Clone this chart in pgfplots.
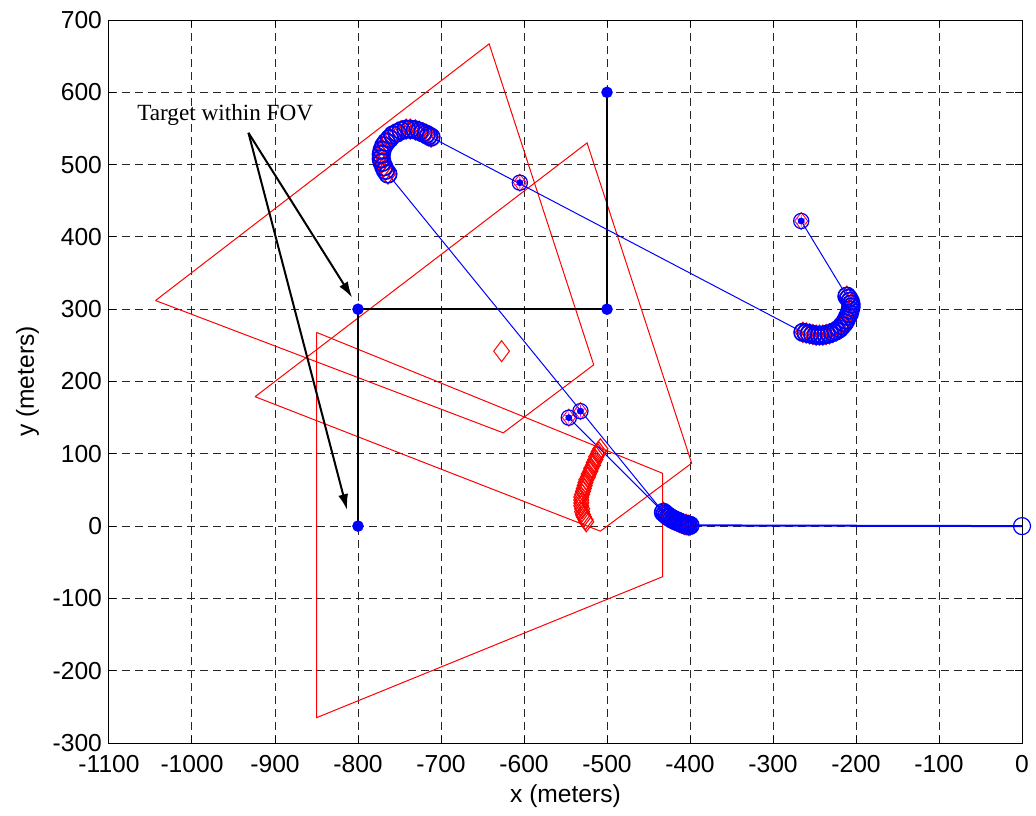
\documentclass[border=0pt]{standalone}
\usepackage{fontspec}
\setmainfont{Liberation Sans}
\newfontfamily\timesfont{Liberation Serif}
\usepackage{pgfplots}
\pgfplotsset{compat=1.18}
\usetikzlibrary{arrows.meta}
\definecolor{mblue}{rgb}{0,0,1}
\definecolor{mred}{rgb}{1,0,0}
\definecolor{mmag}{rgb}{1,0,1}
\begin{document}
\begin{tikzpicture}
\begin{axis}[
  at={(0,0)}, anchor=south west,
  scale only axis, width=456.5pt, height=361.5pt,
  xmin=-1100, xmax=0, ymin=-300, ymax=700,
  xtick={-1100,-1000,-900,-800,-700,-600,-500,-400,-300,-200,-100,0},
  ytick={-300,-200,-100,0,100,200,300,400,500,600,700},
  scaled ticks=false,
  /pgf/number format/1000 sep={},
  /pgf/number format/assume math mode=true,
  ticklabel style={font=\fontsize{12.3}{14.8}\selectfont},
  xticklabel style={yshift=-2.5pt},
  label style={font=\fontsize{12.3}{14.8}\selectfont},
  xlabel={x (meters)}, ylabel={y (meters)},
  xlabel style={yshift=1pt},
  grid=major,
  major grid style={black!85, line width=0.5pt, dash pattern=on 4pt off 2.5pt},
  tick align=inside, major tick length=3.5pt,
  tick style={black, line width=0.5pt},
  axis line style={black, line width=0.5pt},
  clip=false,
]
% FOV polygons
\addplot[mred, line width=0.5pt] coordinates {(-1044,312) (-642,667) (-516,223) (-625,129) (-1044,312)};
\addplot[mred, line width=0.5pt] coordinates {(-924,179) (-524,530) (-398,87) (-508,-7) (-924,179)};
\addplot[mred, line width=0.5pt] coordinates {(-850,268) (-433,73) (-433,-70) (-850,-265) (-850,268)};
% target path
\addplot[black, line width=0.75pt, mark=*, mark size=2.5pt, mark options={mblue, fill=mblue}] coordinates {(-800,0) (-800,300) (-500,300) (-500,600)};
% blue trajectory lines
\addplot[mblue, line width=1pt] coordinates {(0,0) (-400,1)};
\addplot[mblue, line width=0.5pt] coordinates {(-432,19) (-764,487)};
\addplot[mblue, line width=0.5pt] coordinates {(-432,19) (-546,150)};
\addplot[mblue, line width=0.5pt] coordinates {(-712,538) (-264,268)};
\addplot[mblue, line width=0.5pt] coordinates {(-211,318) (-266,422)};
% single diamond
\addplot[only marks, mred, mark=diamond, mark size=5.25pt, mark options={line width=0.5pt}] coordinates {(-627,242)};
% red diamond track
\addplot[only marks, mred, mark=diamond, mark size=5pt, mark options={line width=0.55pt}] coordinates {
(-508,107) (-510,103) (-511,100) (-513,96) (-514,92) (-516,88) (-517,84) (-519,80) (-520,76) (-522,72) (-523,68) (-525,64) (-526,60) (-527,56) (-528,52) (-529,48) (-530,44) (-531,40) (-531,36) (-531,32) (-531,28) (-530,24) (-530,20) (-529,16) (-528,13) (-526,9) (-525,6)};
% UAV arcs: red diamonds then blue circles
\addplot[only marks, mred, mark=diamond, mark size=5pt, mark options={line width=0.6pt}] coordinates {
(-400,1) (-402,1) (-404,2) (-406,2) (-408,3) (-410,4) (-412,5) (-414,6) (-416,7) (-418,8) (-420,9) (-422,10) (-424,12) (-426,13) (-428,15) (-430,17) (-432,19)
(-764,487) (-767,492) (-769,497) (-771,503) (-772,508) (-772,514) (-771,520) (-769,526) (-766,531) (-762,536) (-758,541) (-753,544) (-748,547) (-742,549) (-737,549) (-731,548) (-726,546) (-722,544) (-718,542) (-715,540) (-712,538)
(-264,268) (-260,267) (-256,266) (-252,265) (-248,264) (-244,264) (-240,264) (-236,265) (-232,266) (-228,268) (-224,270) (-220,273) (-217,277) (-214,281) (-212,285) (-210,290) (-208,294) (-207,299) (-206,303) (-206,307) (-207,311) (-209,315) (-211,318)};
\addplot[only marks, mblue, mark=o, mark size=4.4pt, mark options={line width=0.85pt}] coordinates {
(-400,1) (-402,1) (-404,2) (-406,2) (-408,3) (-410,4) (-412,5) (-414,6) (-416,7) (-418,8) (-420,9) (-422,10) (-424,12) (-426,13) (-428,15) (-430,17) (-432,19)
(-764,487) (-767,492) (-769,497) (-771,503) (-772,508) (-772,514) (-771,520) (-769,526) (-766,531) (-762,536) (-758,541) (-753,544) (-748,547) (-742,549) (-737,549) (-731,548) (-726,546) (-722,544) (-718,542) (-715,540) (-712,538)
(-264,268) (-260,267) (-256,266) (-252,265) (-248,264) (-244,264) (-240,264) (-236,265) (-232,266) (-228,268) (-224,270) (-220,273) (-217,277) (-214,281) (-212,285) (-210,290) (-208,294) (-207,299) (-206,303) (-206,307) (-207,311) (-209,315) (-211,318)};
% start point
\addplot[only marks, mblue, mark=o, mark size=4.25pt, mark options={line width=0.6pt}] coordinates {(0,0)};
% target estimate markers
\addplot[only marks, mred, mark=diamond, mark size=4.3pt, mark options={line width=0.4pt}] coordinates {(-605,475) (-266,422) (-532,159) (-546,150)};
\addplot[only marks, mmag, mark=asterisk, mark size=3pt, mark options={line width=0.4pt}] coordinates {(-605,475) (-266,422) (-532,159) (-546,150)};
\addplot[only marks, mblue, mark=o, mark size=3.8pt, mark options={line width=0.6pt}] coordinates {(-605,475) (-266,422) (-532,159) (-546,150)};
\addplot[only marks, mblue, mark=*, mark size=1.5pt] coordinates {(-605,475) (-266,422) (-532,159) (-546,150)};
% annotation
\node[font=\timesfont\fontsize{11.6}{14}\selectfont] at (axis cs:-960,568) {Target within FOV};
\draw[black, line width=1pt, -{Latex[length=8pt,width=5pt]}] (axis cs:-932,544) -- (axis cs:-807,316);
\draw[black, line width=1pt, -{Latex[length=8pt,width=5pt]}] (axis cs:-932,544) -- (axis cs:-813,22);
\end{axis}
\pgfresetboundingbox
\useasboundingbox (-54.5pt,-36pt) rectangle (463.5pt,371.5pt);
\end{tikzpicture}
\end{document}
